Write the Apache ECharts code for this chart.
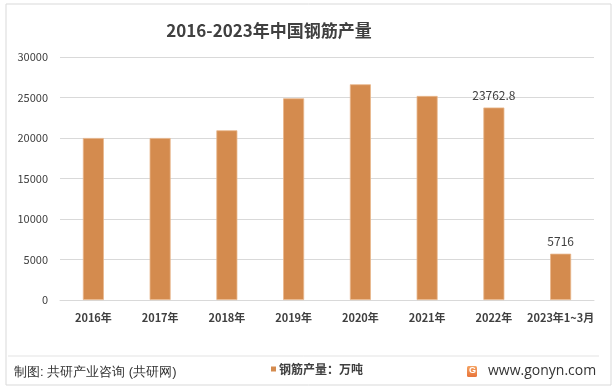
<!DOCTYPE html>
<html>
<head>
<meta charset="utf-8">
<script src="https://cdn.jsdelivr.net/npm/echarts@6/dist/echarts.min.js"></script>
<style>
html,body{margin:0;padding:0;background:#fff;}
#c{width:615px;height:389px;}
</style>
</head>
<body>
<div id="c"></div>
<script>
var categories = ['2016年','2017年','2018年','2019年','2020年','2021年','2022年','2023年1~3月'];
var production = [20000, 20000, 20950, 24900, 26630, 25190, 23762.8, 5716];
var labeledIdx = [6, 7];
var seriesName = '钢筋产量：万吨';
var titleText = '2016-2023年中国钢筋产量';
var sourceText = '制图: 共研产业咨询 (共研网)';
var siteText = 'www.gonyn.com';

var chart = echarts.init(document.getElementById('c'), null, {renderer: 'canvas'});
var font = '"Microsoft YaHei","Noto Sans CJK SC","DejaVu Sans",sans-serif';
var option = {
  backgroundColor: '#fff',
  animation: false,
  textStyle: {fontFamily: font},
  title: {
    text: titleText,
    left: 264, top: 17, textAlign: 'center',
    textStyle: {fontSize: 17, fontWeight: 'bold', color: '#404040', fontFamily: font}
  },
  grid: {left: 60, right: 21, top: 57, bottom: 89, containLabel: false},
  legend: {
    data: [seriesName],
    left: 266, top: 358,
    itemWidth: 5, itemHeight: 5, itemGap: 3,
    icon: 'rect',
    itemStyle: {borderWidth: 0, color: '#D48B4E'},
    textStyle: {fontSize: 12, color: '#404040', fontWeight: 'bold', fontFamily: font, padding: [0,0,0,-2]}
  },
  xAxis: {
    type: 'category',
    data: categories,
    axisLine: {lineStyle: {color: '#d9d9d9'}},
    axisTick: {show: false},
    axisLabel: {color: '#404040', fontSize: 11, fontWeight: 'bold', margin: 12, interval: 0, fontFamily: font}
  },
  yAxis: {
    type: 'value',
    min: 0, max: 30000, interval: 5000,
    axisLine: {show: false},
    axisTick: {show: false},
    splitLine: {lineStyle: {color: '#d9d9d9'}},
    axisLabel: {color: '#404040', fontSize: 11, margin: 12, fontFamily: font,
      formatter: function(v){ return String(v); }}
  },
  series: [{
    name: seriesName,
    type: 'bar',
    barWidth: 21,
    itemStyle: {color: '#D48B4E', borderColor: '#E9B68C', borderWidth: 0.8},
    data: production.map(function(v, i){
      return {
        value: v,
        label: {show: labeledIdx.indexOf(i) >= 0, position: 'top', distance: 6,
          color: '#404040', fontSize: 12, fontFamily: font}
      };
    })
  }],
  graphic: [
    {type: 'rect', shape: {x: 6, y: 4, width: 605, height: 381}, style: {fill: 'none', stroke: '#d9d9d9', lineWidth: 1}, silent: true, z: -1},
    {type: 'line', shape: {x1: 8, y1: 356, x2: 599, y2: 356}, style: {stroke: '#e3e3e3', lineWidth: 1}},
    {type: 'text', left: 14, top: 366, style: {text: sourceText, fontSize: 13, fill: '#333', font: '13px ' + font}},
    {type: 'rect', shape: {x: 467, y: 366, width: 10, height: 11, r: 1.5},
      style: {fill: {type: 'linear', x: 0, y: 0, x2: 0, y2: 1, colorStops: [{offset: 0, color: '#F4A261'}, {offset: 1, color: '#E8743B'}]}}},
    {type: 'text', left: 469, top: 366, style: {text: 'G', fontSize: 9, fontWeight: 'bold', fill: '#fff', font: 'bold 9px "DejaVu Sans",sans-serif'}},
    {type: 'text', left: 488, top: 364, style: {text: siteText, fill: '#333', font: '14px "Open Sans","DejaVu Sans",sans-serif'}}
  ]
};
chart.setOption(option);
</script>
</body>
</html>
